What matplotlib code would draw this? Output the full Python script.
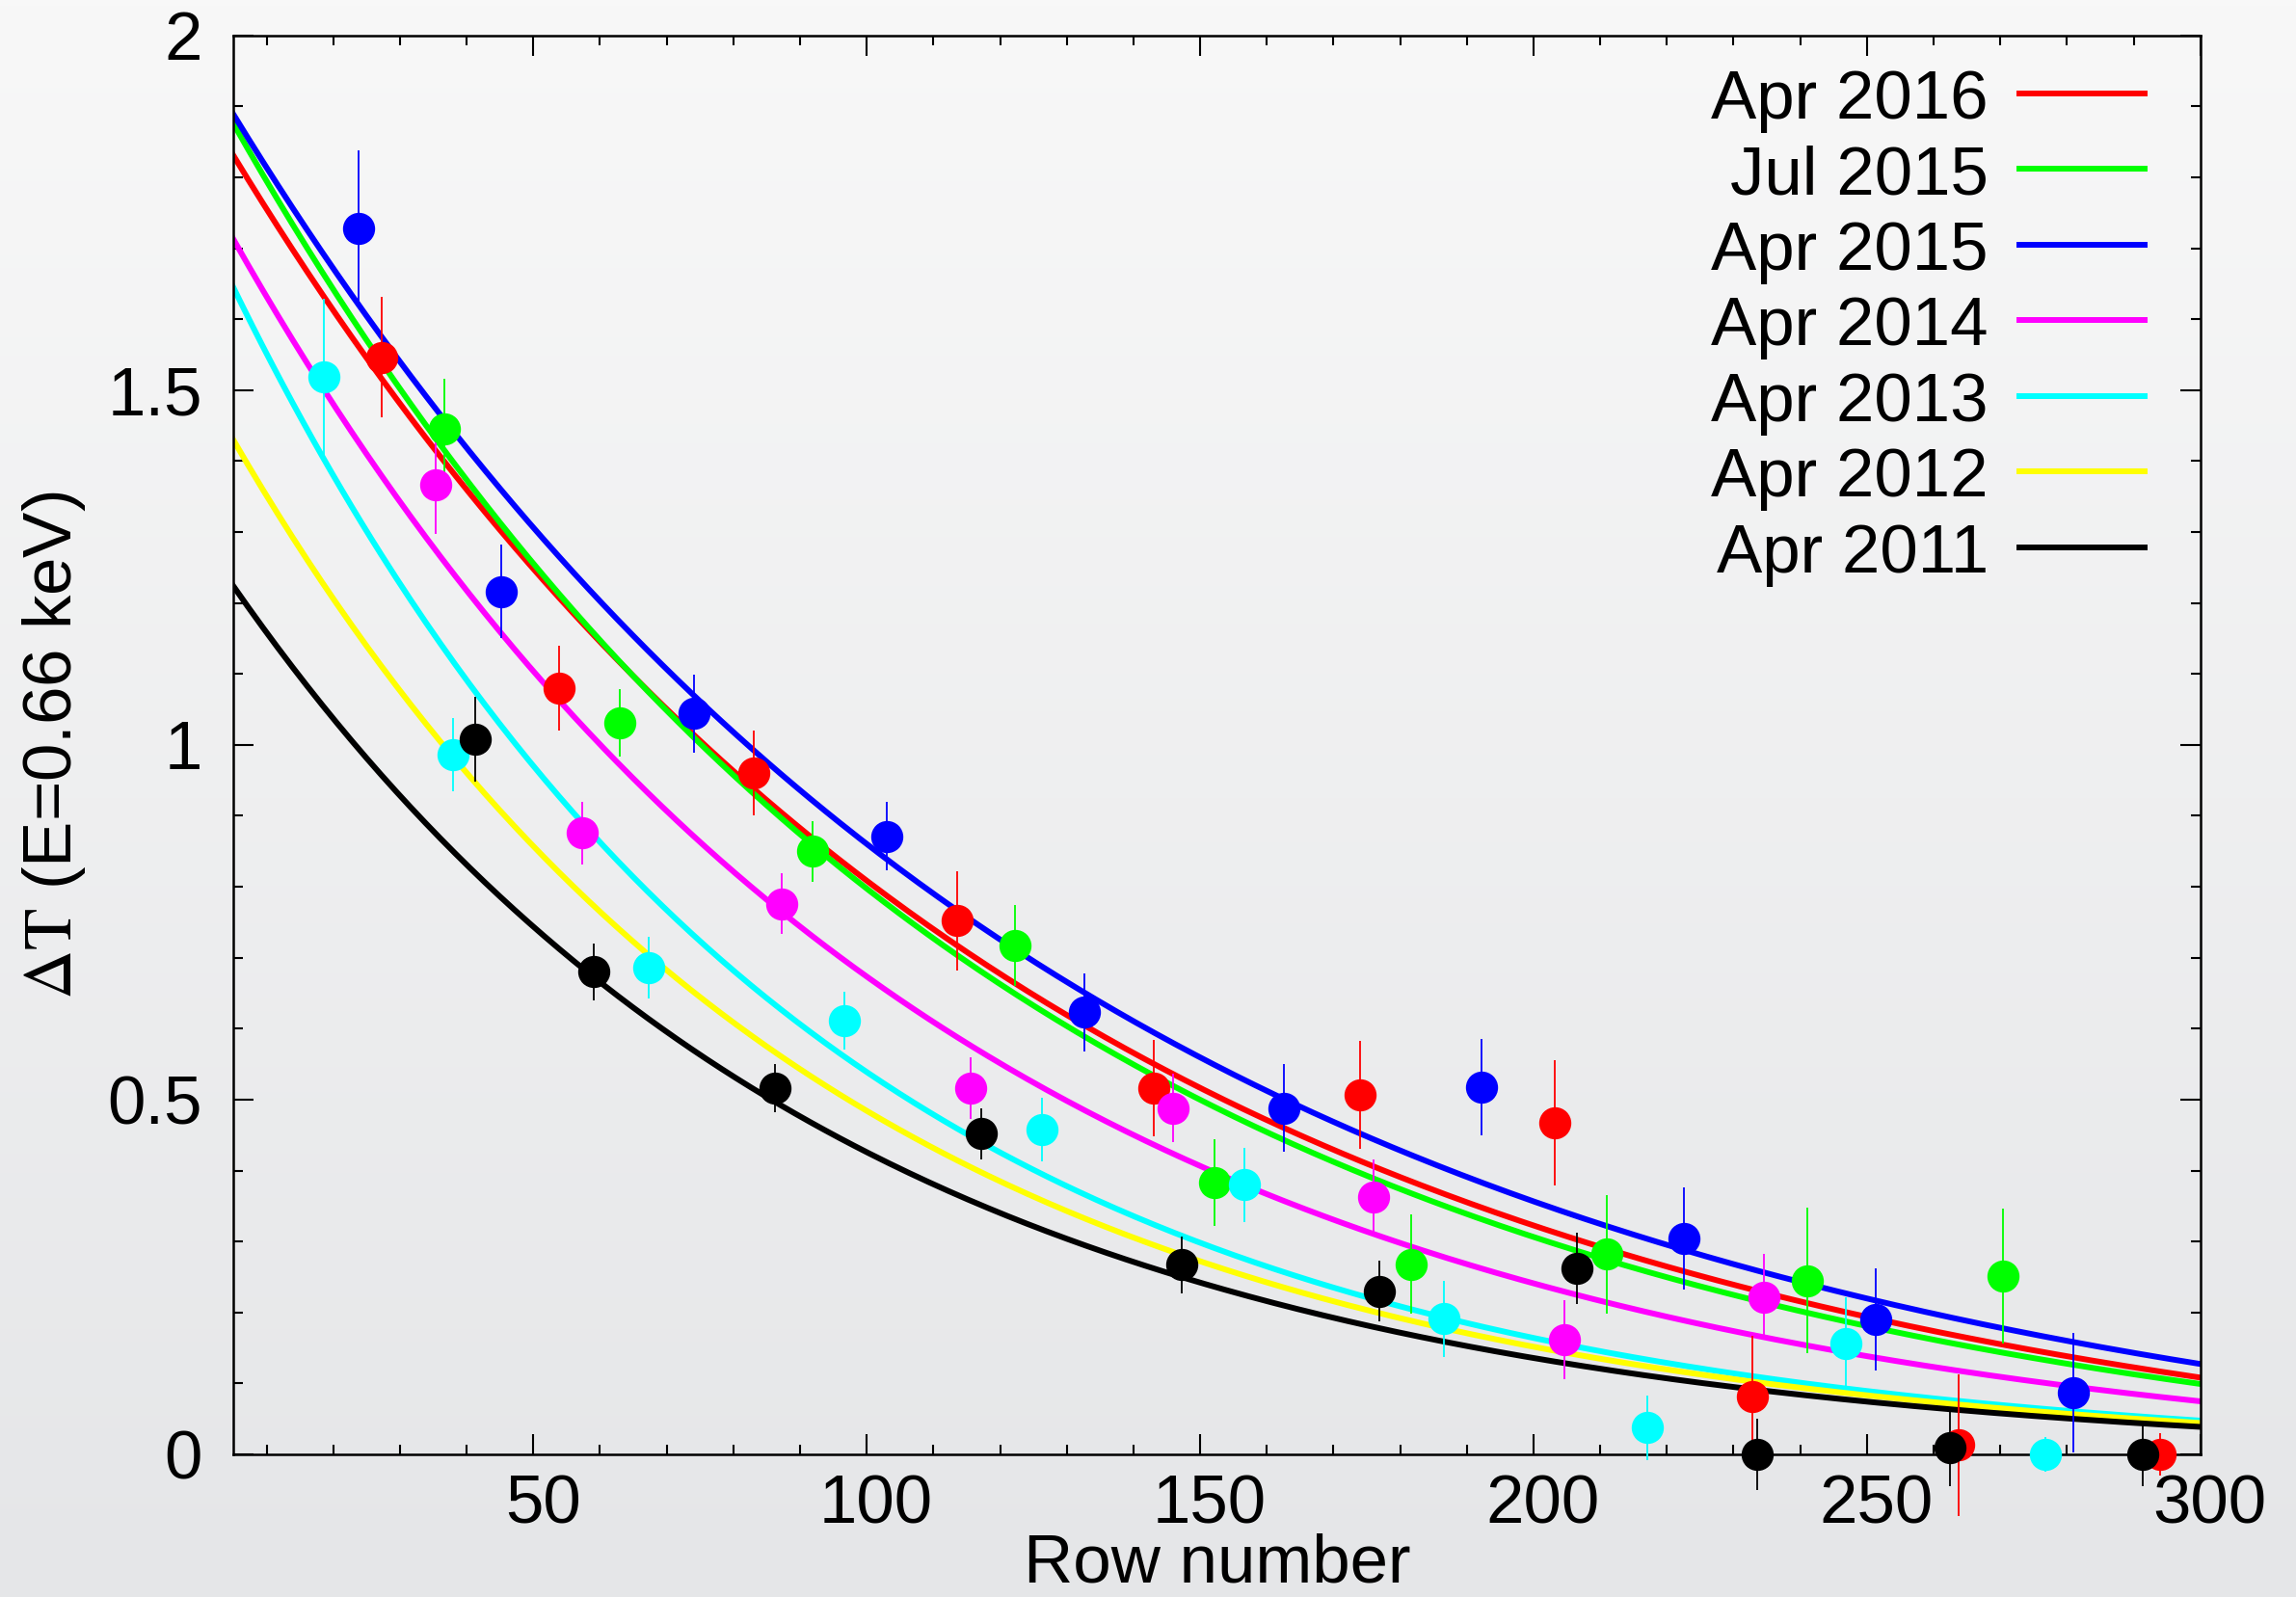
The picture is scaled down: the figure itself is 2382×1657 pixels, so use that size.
import numpy as np
import matplotlib
matplotlib.use('Agg')
import matplotlib.pyplot as plt
from matplotlib.colors import LinearSegmentedColormap
from matplotlib.ticker import MultipleLocator, FuncFormatter
from matplotlib.transforms import ScaledTranslation

plt.rcParams['font.family'] = ['Liberation Sans', 'DejaVu Sans']
plt.rcParams['mathtext.fontset'] = 'stix'

labels = ['Apr 2016', 'Jul 2015', 'Apr 2015', 'Apr 2014', 'Apr 2013', 'Apr 2012', 'Apr 2011']
colors = ['#ff0000', '#00ff00', '#0000ff', '#ff00ff', '#00ffff', '#ffff00', '#000000']

# measured points (row number, delta T, error)
x_2016 = [27.3, 53.8, 83.1, 113.5, 143.0, 174.0, 203.2, 232.8, 263.8, 293.9]
y_2016 = [1.546, 1.080, 0.960, 0.752, 0.516, 0.507, 0.467, 0.081, 0.013, 0.0]
e_2016 = [0.085, 0.060, 0.060, 0.070, 0.068, 0.076, 0.088, 0.086, 0.100, 0.030]

x_2015j = [36.7, 62.9, 91.9, 122.2, 152.2, 181.7, 211.0, 241.0, 270.4]
y_2015j = [1.446, 1.031, 0.850, 0.717, 0.383, 0.268, 0.282, 0.245, 0.251]
e_2015j = [0.070, 0.047, 0.043, 0.057, 0.061, 0.070, 0.083, 0.103, 0.095]

x_2015 = [23.8, 45.2, 74.1, 103.0, 132.6, 162.6, 192.2, 222.5, 251.3, 281.0]
y_2015 = [1.728, 1.216, 1.044, 0.871, 0.623, 0.488, 0.518, 0.304, 0.190, 0.087]
e_2015 = [0.110, 0.066, 0.055, 0.048, 0.055, 0.062, 0.068, 0.072, 0.072, 0.084]

x_2014 = [35.4, 57.4, 87.3, 115.6, 145.9, 176.0, 204.6, 234.5]
y_2014 = [1.367, 0.876, 0.776, 0.516, 0.488, 0.363, 0.162, 0.222]
e_2014 = [0.070, 0.044, 0.043, 0.043, 0.048, 0.052, 0.056, 0.060]

x_2013 = [18.6, 38.0, 67.3, 96.7, 126.3, 156.7, 186.5, 217.0, 246.9, 276.8]
y_2013 = [1.519, 0.986, 0.686, 0.611, 0.458, 0.380, 0.191, 0.0375, 0.156, 0.0]
e_2013 = [0.110, 0.052, 0.044, 0.041, 0.045, 0.052, 0.054, 0.045, 0.065, 0.025]

x_2012 = []
y_2012 = []
e_2012 = []

x_2011 = [41.3, 59.0, 86.2, 117.2, 147.3, 176.9, 206.5, 233.5, 262.5, 291.4]
y_2011 = [1.008, 0.680, 0.516, 0.452, 0.267, 0.230, 0.262, 0.0, 0.010, 0.0]
e_2011 = [0.060, 0.040, 0.034, 0.036, 0.040, 0.043, 0.050, 0.050, 0.055, 0.045]

# exponential fit parameters: amp*exp(-(x-5)/length) + offset
fit_amp = [1.892, 1.928, 1.953, 1.742, 1.650, 1.437, 1.234]
fit_len = [122.2, 115.9, 127.0, 104.6, 85.6, 88.5, 91.3]
fit_off = [-0.061, -0.052, -0.064, -0.029, -0.005, -0.007, -0.010]

xs = [x_2016, x_2015j, x_2015, x_2014, x_2013, x_2012, x_2011]
ys = [y_2016, y_2015j, y_2015, y_2014, y_2013, y_2012, y_2011]
es = [e_2016, e_2015j, e_2015, e_2014, e_2013, e_2012, e_2011]

fig = plt.figure(figsize=(23.82, 16.57), dpi=100)

# grey gradient background
bg = fig.add_axes([0, 0, 1, 1], zorder=0)
cmap = LinearSegmentedColormap.from_list('bg', ['#f8f8f8', '#e5e6e8'])
bg.imshow(np.linspace(0, 1, 256).reshape(-1, 1), aspect='auto', cmap=cmap, extent=[0, 1, 0, 1])
bg.axis('off')

ax = fig.add_axes([242 / 2382, 148 / 1657, 2040.7 / 2382, 1472.3 / 1657], zorder=1)
ax.patch.set_alpha(0)

xx = np.linspace(5, 300, 400)
for i in range(7):
    ax.plot(xx, fit_amp[i] * np.exp(-(xx - 5) / fit_len[i]) + fit_off[i],
            color=colors[i], lw=4.3, zorder=2)

for i in range(7):
    if len(xs[i]) == 0:
        continue
    ax.errorbar(xs[i], ys[i], yerr=es[i], fmt='o', ms=23, color=colors[i],
                mec=colors[i], ecolor=colors[i], elinewidth=1.3, capsize=0,
                zorder=3 + i * 0.01, clip_on=False)

ax.set_xlim(5, 300)
ax.set_ylim(0, 2)
ax.xaxis.set_major_locator(MultipleLocator(50))
ax.xaxis.set_minor_locator(MultipleLocator(10))
ax.yaxis.set_major_locator(MultipleLocator(0.5))
ax.yaxis.set_minor_locator(MultipleLocator(0.1))
ax.yaxis.set_major_formatter(FuncFormatter(lambda v, p: '%g' % v))

ax.tick_params(which='both', direction='in', top=True, right=True, width=1.5, labelsize=51)
ax.tick_params(which='major', length=15)
ax.tick_params(which='minor', length=7.2)
ax.tick_params(axis='y', pad=23)
ax.tick_params(axis='x', pad=15)
for s in ax.spines.values():
    s.set_linewidth(1.8)

fig.canvas.draw()
for lab in ax.get_xticklabels():
    lab.set_transform(lab.get_transform() + ScaledTranslation(0.1, 0, fig.dpi_scale_trans))

ax.set_xlabel('Row number', fontsize=51)
ax.xaxis.label.set_va('baseline')
ax.xaxis.set_label_coords(0.5, -0.0897)
ax.set_ylabel(r'$\Delta\mathrm{T}$ (E=0.66 keV)', fontsize=51)
ax.yaxis.label.set_va('center')
ax.yaxis.set_label_coords(-0.091, 0.5)

# gnuplot style key: right aligned text, line sample on the right
for i in range(7):
    yk = 0.9591 - i * 0.0533
    ax.text(0.8923, yk - 0.0177, labels[i], ha='right', va='baseline',
            fontsize=51, transform=ax.transAxes, zorder=4)
    ax.plot([0.9080, 0.9717], [yk, yk], color=colors[i], lw=4.3,
            transform=ax.transAxes, zorder=4)

fig.savefig('out.png', dpi=100)
